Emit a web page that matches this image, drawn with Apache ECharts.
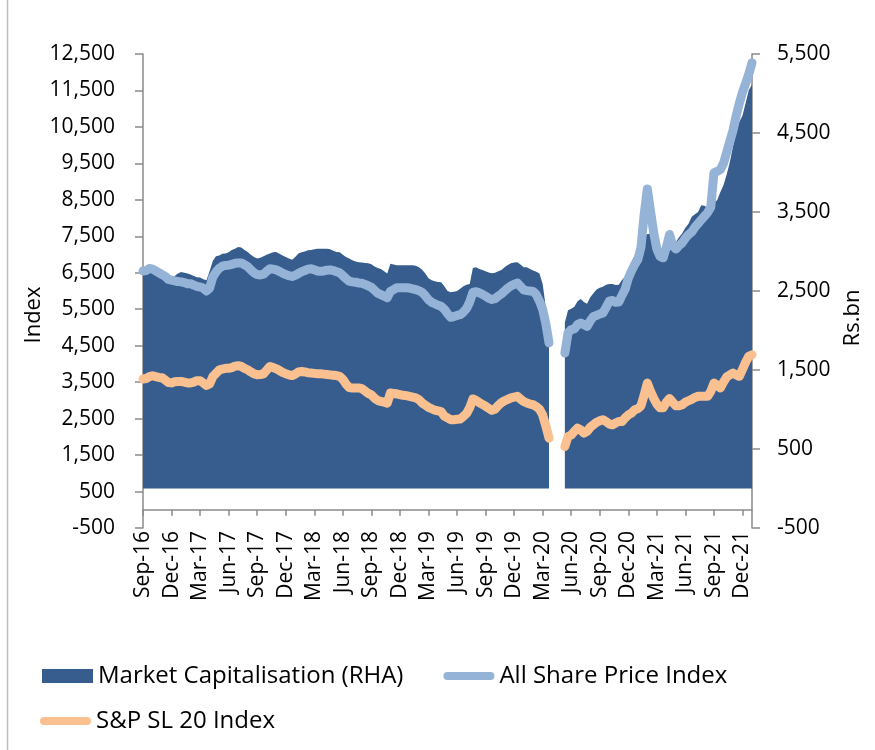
<!DOCTYPE html>
<html>
<head>
<meta charset="utf-8">
<script src="https://cdn.jsdelivr.net/npm/echarts@6/dist/echarts.min.js"></script>
<style>
  html, body { margin: 0; padding: 0; background: #ffffff; }
  #chart { width: 875px; height: 750px; }
</style>
</head>
<body>
<div id="chart"></div>
<script>
// Three readings per month (1st, 11th, 21st), Sep 2016 - Dec 2021, plus the year-end close.
// null = market closed (Mar-May 2020).
const monthNames = ['Jan', 'Feb', 'Mar', 'Apr', 'May', 'Jun', 'Jul', 'Aug', 'Sep', 'Oct', 'Nov', 'Dec'];
const readingDays = [1, 11, 21];
const categories = [];
for (let m = 0; m < 64; m++) {
  const year = 2016 + Math.floor((8 + m) / 12);
  const month = (8 + m) % 12 + 1;
  readingDays.forEach(d => {
    categories.push(year + '-' + String(month).padStart(2, '0') + '-' + String(d).padStart(2, '0'));
  });
}
categories.push('2021-12-31');

// All Share Price Index (left axis)
const aspi = [
  6550, 6560, 6620,  6600, 6550, 6500,  6450, 6400, 6320,  6300, 6280, 6260,
  6250, 6230, 6200,  6200, 6160, 6125,  6110, 6080, 6000,  6080, 6380, 6520,
  6620, 6680, 6700,  6710, 6730, 6760,  6770, 6770, 6720,  6670, 6580, 6500,
  6450, 6440, 6460,  6540, 6610, 6600,  6580, 6540, 6490,  6450, 6420, 6400,
  6430, 6480, 6530,  6560, 6600, 6610,  6580, 6550, 6540,  6550, 6570, 6580,
  6560, 6530, 6500,  6420, 6340, 6270,  6250, 6240, 6220,  6210, 6180, 6140,
  6100, 6020, 5940,  5900, 5860, 5815,  5990, 6040, 6090,  6090, 6090, 6090,
  6080, 6060, 6040,  6010, 5960, 5870,  5760, 5690, 5650,  5610, 5580, 5500,
  5380, 5280, 5300,  5330, 5350, 5420,  5520, 5700, 5960,  5980, 5950, 5910,
  5860, 5800, 5770,  5790, 5860, 5920,  6000, 6080, 6140,  6180, 6220, 6130,
  6030, 6010, 6000,  5990, 5900, 5720,  5500, 5100, 4580,  null, null, null,
  null, 4300, 4850,  4940, 4960, 5080,  5120, 5080, 5030,  5180, 5300, 5330,
  5370, 5400, 5550,  5720, 5740, 5690,  5700, 5880, 6050,  6350, 6550, 6720,
  6860, 7200, 8100,  8800, 8200, 7600,  7150, 6950, 6910,  7200, 7550, 7250,
  7150, 7250, 7320,  7450, 7550, 7620,  7750, 7850, 7950,  8050, 8150, 8300,
  9240, 9280, 9330,  9500, 9800, 10100, 10400, 10800, 11150, 11450, 11700, 11950,
  12260
];

// S&P SL 20 Index (left axis)
const sl20 = [
  3585, 3600, 3650,  3675, 3650, 3630,  3620, 3560, 3490,  3480, 3510, 3520,
  3520, 3500, 3480,  3480, 3500, 3540,  3540, 3480, 3410,  3450, 3650, 3740,
  3830, 3860, 3880,  3880, 3900, 3940,  3950, 3930, 3880,  3840, 3780, 3730,
  3700, 3710, 3730,  3830, 3930, 3900,  3870, 3820, 3770,  3730, 3700, 3680,
  3720, 3780, 3790,  3780, 3760, 3750,  3740, 3730, 3730,  3720, 3710, 3700,
  3690, 3680, 3660,  3580, 3450, 3350,  3340, 3340, 3340,  3320, 3260, 3190,
  3150, 3060, 3000,  2970, 2950, 2925,  3200, 3190, 3180,  3160, 3140, 3130,
  3110, 3090, 3070,  3020, 2930, 2870,  2810, 2770, 2730,  2710, 2690, 2570,
  2520, 2470, 2470,  2480, 2490, 2560,  2640, 2800, 3040,  3000, 2940, 2890,
  2840, 2780, 2730,  2760, 2860, 2940,  2990, 3030, 3070,  3090, 3110, 3040,
  2970, 2930, 2900,  2880, 2830, 2760,  2600, 2300, 1965,  null, null, null,
  null, 1735, 2010,  2050, 2150, 2240,  2190, 2100, 2150,  2260, 2330, 2400,
  2440, 2470, 2420,  2350, 2330, 2380,  2420, 2420, 2520,  2600, 2650, 2740,
  2770, 2850, 3150,  3475, 3250, 3060,  2900, 2800, 2800,  2950, 3050, 2950,
  2850, 2850, 2880,  2950, 2990, 3030,  3080, 3110, 3110,  3110, 3110, 3250,
  3475, 3420, 3340,  3500, 3640, 3700,  3750, 3700, 3660,  3850, 4050, 4210,
  4250
];

// Market capitalisation, Rs.bn (right axis)
const marketCap = [
  2800, 2790, 2800,  2790, 2760, 2740,  2740, 2720, 2700,  2690, 2690, 2720,
  2740, 2730, 2720,  2710, 2690, 2675,  2670, 2650, 2635,  2750, 2880, 2940,
  2950, 2970, 2975,  2990, 3020, 3035,  3057, 3050, 3020,  2995, 2960, 2930,
  2910, 2920, 2940,  2960, 2975, 2990,  2995, 2970, 2950,  2930, 2910, 2895,
  2930, 2975, 2990,  3000, 3015, 3020,  3030, 3035, 3035,  3035, 3035, 3030,
  3010, 2995, 2990,  2960, 2930, 2910,  2890, 2875, 2865,  2860, 2855, 2850,
  2840, 2810, 2790,  2780, 2750, 2720,  2845, 2835, 2825,  2825, 2825, 2825,
  2825, 2825, 2820,  2800, 2770, 2720,  2660, 2635, 2625,  2615, 2610, 2560,
  2500, 2485, 2490,  2500, 2530, 2560,  2580, 2590, 2790,  2800, 2780, 2765,
  2750, 2735, 2725,  2730, 2750, 2765,  2800, 2830, 2850,  2860, 2865, 2835,
  2800, 2800, 2780,  2760, 2745, 2720,  2590, 2290, 1950,  null, null, null,
  null, 2100, 2255,  2275, 2300, 2370,  2400, 2360, 2340,  2420, 2470, 2520,
  2540, 2555, 2580,  2590, 2590, 2575,  2580, 2640, 2680,  2780, 2870, 2950,
  2990, 3060, 3180,  3220, 3225, 3100,  3015, 2950, 2900,  2950, 3250, 3100,
  3120, 3180, 3230,  3300, 3350, 3440,  3470, 3500, 3585,  3580, 3550, 3560,
  3620, 3650, 3750,  3840, 3970, 4130,  4330, 4500, 4640,  4720, 4880, 5045,
  5110
];

const seriesNames = ['Market Capitalisation (RHA)', 'All Share Price Index', 'S&P SL 20 Index'];
const seriesColors = ['#365D8E', '#95B3D7', '#FAC090'];

const FONT = '"Open Sans", "DejaVu Sans", sans-serif';
const AXIS_GRAY = '#8A8A8A';
const lineIcon = 'path://M4,0 L47,0 A4,4 0 0 1 47,8 L4,8 A4,4 0 0 1 4,0 Z';

// show a label/tick at the first reading of every third month
const quarterly = (index) => index % 9 === 0 && index < 192;
const monthLabel = (v) => {
  const parts = v.split('-');
  return monthNames[+parts[1] - 1] + '-' + parts[0].slice(2);
};
const thousands = (v) => v.toLocaleString('en-US');

const chart = echarts.init(document.getElementById('chart'), null, { renderer: 'canvas' });

chart.setOption({
  animation: false,
  backgroundColor: '#ffffff',
  textStyle: { fontFamily: FONT },
  grid: { left: 143, right: 123, top: 54, bottom: 222, containLabel: false },
  graphic: [{
    type: 'line',
    shape: { x1: 7.5, y1: 0, x2: 7.5, y2: 750 },
    style: { stroke: '#BDBDBD', lineWidth: 1.5 },
    silent: true
  }],
  legend: [{
    left: 37, top: 659,
    itemWidth: 51, itemHeight: 14, itemGap: 40,
    textStyle: { fontFamily: FONT, fontSize: 24, color: '#000' },
    data: [
      { name: seriesNames[0], icon: 'rect' },
      { name: seriesNames[1], icon: lineIcon }
    ]
  }, {
    left: 35, top: 704,
    itemWidth: 51, itemHeight: 14,
    textStyle: { fontFamily: FONT, fontSize: 24, color: '#000' },
    data: [{ name: seriesNames[2], icon: lineIcon }]
  }],
  xAxis: {
    type: 'category',
    data: categories,
    boundaryGap: false,
    axisLine: { onZero: true, onZeroAxisIndex: 0, lineStyle: { color: AXIS_GRAY, width: 1.5 } },
    axisTick: { show: true, interval: quarterly, length: 6, lineStyle: { color: AXIS_GRAY, width: 1.5 } },
    axisLabel: {
      interval: quarterly, rotate: 90, margin: 3,
      fontFamily: FONT, fontSize: 21, color: '#000',
      formatter: monthLabel
    },
    splitLine: { show: false }
  },
  yAxis: [{
    type: 'value',
    min: -500, max: 12500, interval: 1000,
    name: 'Index', nameLocation: 'middle', nameGap: 98, nameMoveOverlap: false,
    nameTextStyle: { fontFamily: FONT, fontSize: 22, color: '#000', padding: [0, 48, 0, 0] },
    axisLine: { show: true, lineStyle: { color: AXIS_GRAY, width: 1.5 } },
    axisTick: { show: true, length: 8, lineStyle: { color: AXIS_GRAY, width: 1.5 } },
    axisLabel: { margin: 28, fontFamily: FONT, fontSize: 21, color: '#000', formatter: thousands },
    splitLine: { show: false }
  }, {
    type: 'value',
    position: 'right',
    min: -500, max: 5500, interval: 1000,
    name: 'Rs.bn', nameLocation: 'middle', nameGap: 90, nameMoveOverlap: false,
    nameTextStyle: { fontFamily: FONT, fontSize: 22, color: '#000', padding: [0, 54, 0, 0] },
    axisLine: { show: true, lineStyle: { color: AXIS_GRAY, width: 1.5 } },
    axisTick: { show: true, length: 8, lineStyle: { color: AXIS_GRAY, width: 1.5 } },
    axisLabel: { margin: 25, fontFamily: FONT, fontSize: 21, color: '#000', formatter: thousands },
    splitLine: { show: false }
  }],
  series: [{
    name: seriesNames[0],
    type: 'line',
    yAxisIndex: 1,
    data: marketCap,
    showSymbol: false,
    symbol: 'none',
    itemStyle: { color: seriesColors[0] },
    lineStyle: { width: 0, color: seriesColors[0] },
    areaStyle: { color: seriesColors[0], opacity: 1 },
    z: 1
  }, {
    name: seriesNames[1],
    type: 'line',
    yAxisIndex: 0,
    data: aspi,
    showSymbol: false,
    symbol: 'none',
    itemStyle: { color: seriesColors[1] },
    lineStyle: { width: 9, color: seriesColors[1], cap: 'round', join: 'round' },
    z: 2
  }, {
    name: seriesNames[2],
    type: 'line',
    yAxisIndex: 0,
    data: sl20,
    showSymbol: false,
    symbol: 'none',
    itemStyle: { color: seriesColors[2] },
    lineStyle: { width: 9, color: seriesColors[2], cap: 'round', join: 'round' },
    z: 3
  }]
});
</script>
</body>
</html>
